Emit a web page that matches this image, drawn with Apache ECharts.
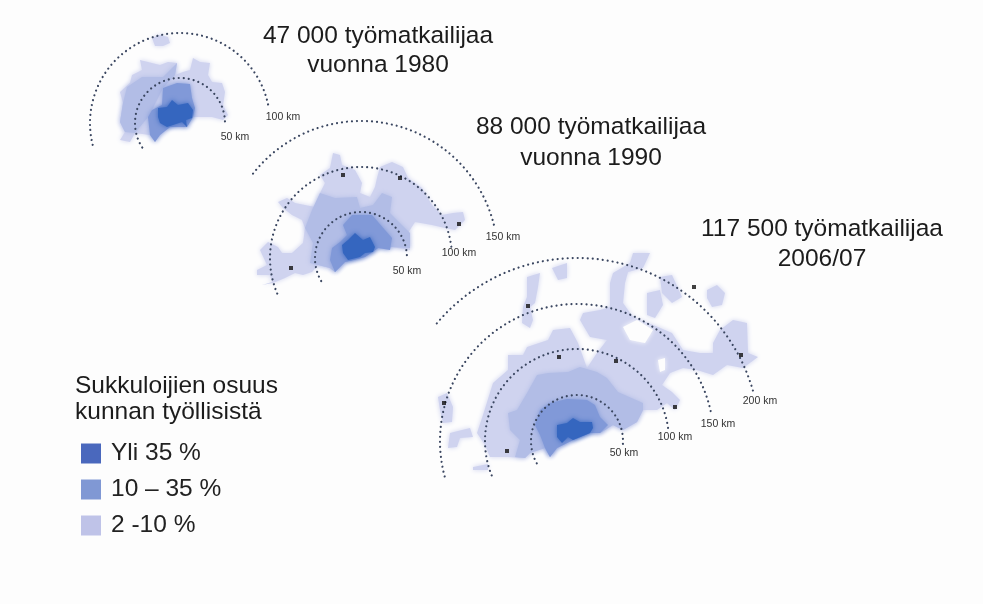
<!DOCTYPE html>
<html>
<head>
<meta charset="utf-8">
<title>Sukkulointi</title>
<script src="https://cdn.jsdelivr.net/npm/echarts@6/dist/echarts.min.js"></script>
<style>
html,body{margin:0;padding:0;background:#fdfdfd;}
#main{width:983px;height:604px;filter:blur(0.5px);}
</style>
</head>
<body>
<div id="main"></div>
<script>
// alueet luettu kuvasta, [x, y] kuvan koordinaateissa
var light = [
  [[120,140],[125,132],[120,122],[123,103],[120,92],[130,83],[132,75],[142,70],[140,60],[148,62],[160,65],[168,62],[177,63],[175,75],[183,72],[190,70],[193,58],[200,62],[210,63],[208,75],[212,82],[222,83],[225,92],[223,105],[228,115],[223,120],[212,117],[193,117],[187,127],[170,127],[160,135],[155,142],[150,135],[135,133],[130,142]],
  [[152,38],[160,35],[168,37],[170,43],[163,46],[155,46]],
  [[262,285],[272,282],[270,275],[257,275],[257,270],[267,265],[260,250],[268,242],[278,247],[282,253],[292,253],[303,243],[305,228],[302,220],[292,215],[283,208],[278,202],[287,198],[295,203],[315,207],[320,193],[325,183],[320,175],[330,168],[333,153],[340,155],[342,165],[355,170],[362,183],[360,193],[370,197],[375,187],[377,178],[380,167],[392,162],[403,167],[408,178],[422,188],[432,205],[442,215],[453,213],[463,212],[465,220],[455,230],[445,228],[432,225],[415,222],[408,233],[410,250],[392,247],[378,248],[365,257],[345,262],[335,272],[330,268],[318,265],[312,272],[303,275],[295,273],[285,278],[273,283]],
  [[477,433],[483,415],[493,383],[508,370],[508,355],[523,355],[527,347],[548,340],[553,330],[570,328],[578,343],[587,368],[597,353],[607,340],[590,337],[580,320],[583,313],[600,310],[610,307],[610,283],[613,273],[630,263],[633,253],[650,253],[643,268],[628,272],[625,283],[623,303],[633,317],[658,327],[672,333],[683,350],[700,353],[713,353],[713,343],[720,330],[733,320],[747,323],[748,353],[758,357],[743,368],[727,365],[713,375],[697,370],[683,368],[670,373],[662,385],[672,392],[680,400],[675,410],[667,403],[657,410],[643,410],[637,422],[623,430],[613,425],[600,433],[590,433],[573,440],[557,448],[550,457],[545,448],[530,453],[525,458],[507,457],[490,457],[485,445]],
  [[450,433],[470,428],[473,437],[460,438],[457,447],[448,448]],
  [[473,467],[488,464],[488,470],[473,470]],
  [[438,397],[447,393],[453,407],[452,422],[443,423],[440,410]],
  [[527,277],[540,273],[538,287],[535,303],[530,307],[533,320],[530,328],[522,323],[523,307],[527,297]],
  [[552,268],[567,263],[567,278],[558,280]],
  [[707,290],[717,285],[725,293],[722,305],[712,307],[707,298]],
  [[647,293],[660,290],[663,305],[655,318],[647,315]],
  [[660,277],[672,275],[682,297],[672,303],[662,293]]
];
var holes = [
  [[623,327],[637,320],[653,330],[645,343],[630,340]],
  [[658,360],[665,358],[665,370],[660,372]]
];
var band = [
  [[127,87],[142,77],[163,77],[177,63],[175,75],[163,88],[152,110],[148,117],[135,133],[125,132],[120,122],[123,103]],
  [[312,210],[320,193],[335,198],[357,197],[360,208],[373,205],[382,193],[392,197],[390,213],[402,225],[410,233],[410,248],[392,247],[378,248],[365,257],[345,262],[335,272],[330,268],[318,265],[310,263],[313,243],[305,228]],
  [[508,413],[517,410],[527,393],[537,375],[548,373],[568,372],[580,367],[597,372],[607,378],[618,392],[643,403],[643,410],[637,422],[623,430],[613,425],[600,433],[590,433],[573,440],[557,448],[550,457],[545,448],[530,453],[525,458],[515,457],[520,440],[510,430]]
];
var mid = [
  [[148,117],[152,110],[162,105],[163,88],[177,83],[190,84],[192,98],[195,108],[193,117],[187,127],[170,127],[160,135],[155,142],[150,135]],
  [[343,225],[352,215],[372,215],[385,230],[392,238],[390,250],[378,248],[365,257],[345,262],[335,272],[330,260],[332,248],[340,242],[347,235]],
  [[540,410],[550,403],[567,399],[587,400],[595,405],[600,417],[608,425],[600,433],[590,433],[573,440],[557,448],[550,457],[545,448],[540,435],[535,425]]
];
var dark = [
  [[158,108],[167,107],[172,100],[178,105],[188,103],[193,110],[192,118],[186,120],[187,127],[182,122],[173,125],[167,127],[160,123],[158,117]],
  [[342,245],[348,240],[355,233],[363,240],[370,237],[375,247],[373,252],[365,253],[360,257],[348,260],[343,253]],
  [[557,425],[567,423],[573,418],[580,422],[592,422],[593,428],[590,433],[573,440],[568,437],[562,443],[557,437]]
];
// keskipiste x, y, säde, alku- ja loppukulma
var rings = [
  [180,123,45,147,362],
  [180,123,90,166,350],
  [361,258,46,150,360],
  [361,258,91,157,353],
  [361,258,137,218,346],
  [577,441,46,151,365],
  [577,441,92,158,352],
  [577,441,137,165,348],
  [577,441,183,220,344]
];
var towns = [[343,175],[400,178],[459,224],[291,268],[528,306],[559,357],[444,403],[507,451],[694,287],[741,355],[616,361],[675,407]];
var kmLabels = [
  [283,117,'100 km'],[235,137,'50 km'],
  [503,237,'150 km'],[459,253,'100 km'],[407,271,'50 km'],
  [760,401,'200 km'],[718,424,'150 km'],[675,437,'100 km'],[624,453,'50 km']
];
var titles = [
  [378,36,'47 000 työmatkailijaa'],[378,65,'vuonna 1980'],
  [591,127,'88 000 työmatkailijaa'],[591,158,'vuonna 1990'],
  [822,229,'117 500 työmatkailijaa'],[822,259,'2006/07']
];
var legendTitle = [[75,386,'Sukkuloijien osuus'],[75,412,'kunnan työllisistä']];
var classNames = ['Yli 35 %','10 – 35 %','2 -10 %'];
var legendColors = ['#4a68bd','#8098d4','#bfc3e8'];
var colors = {dark:'#3566bf',mid:'#8199d8',band:'#b2bde6',light:'#cfd3ef'};

var chart = echarts.init(document.getElementById('main'));

function areaSeries(name, polys, color) {
  return {
    name: name,
    type: 'custom',
    coordinateSystem: 'cartesian2d',
    silent: true,
    data: polys.map(function (p, i) { return [i]; }),
    itemStyle: {color: color},
    renderItem: function (params, api) {
      var pts = polys[params.dataIndex].map(function (p) { return api.coord(p); });
      return {
        type: 'polygon',
        shape: {points: pts},
        style: {fill: color, shadowBlur: 5, shadowColor: color}
      };
    }
  };
}

function textSeries(list, font, align, color) {
  return {
    type: 'custom',
    coordinateSystem: 'cartesian2d',
    silent: true,
    z: 5,
    data: list.map(function (t) { return [t[0], t[1]]; }),
    renderItem: function (params, api) {
      var t = list[params.dataIndex];
      var c = api.coord([t[0], t[1]]);
      return {
        type: 'text',
        style: {x: c[0], y: c[1], text: t[2], font: font, fill: color, align: align, verticalAlign: 'middle'}
      };
    }
  };
}

var option = {
  backgroundColor: '#fdfdfd',
  animation: false,
  grid: {left: 0, right: 0, top: 0, bottom: 0},
  xAxis: {type: 'value', min: 0, max: 983, show: false},
  yAxis: {type: 'value', min: 0, max: 604, inverse: true, show: false},
  legend: {
    orient: 'vertical',
    left: 76,
    top: 436,
    selectedMode: false,
    itemWidth: 20,
    itemHeight: 20,
    itemGap: 11,
    icon: 'rect',
    textStyle: {fontFamily: 'Liberation Sans', fontSize: 24.5, color: '#222', padding: [0, 0, 0, 5]},
    data: classNames.map(function (n, i) {
      return {name: n, itemStyle: {color: legendColors[i], shadowBlur: 0}};
    })
  },
  series: [
    areaSeries(classNames[2], light, colors.light),
    areaSeries('aukot', holes, '#fdfdfd'),
    areaSeries('vyöhyke', band, colors.band),
    areaSeries(classNames[1], mid, colors.mid),
    areaSeries(classNames[0], dark, colors.dark),
    {
      // katkoviivakehät
      type: 'custom',
      coordinateSystem: 'cartesian2d',
      silent: true,
      z: 3,
      data: rings.map(function (r) { return [r[0], r[1]]; }),
      renderItem: function (params, api) {
        var r = rings[params.dataIndex];
        var c = api.coord([r[0], r[1]]);
        return {
          type: 'arc',
          shape: {cx: c[0], cy: c[1], r: api.size([r[2], 0])[0], startAngle: r[3] * Math.PI / 180, endAngle: r[4] * Math.PI / 180, clockwise: true},
          style: {fill: 'none', stroke: '#3a4660', lineWidth: 2.2, lineCap: 'round', lineDash: [0.01, 5]}
        };
      }
    },
    {
      type: 'scatter',
      silent: true,
      symbol: 'rect',
      symbolSize: 4,
      z: 4,
      itemStyle: {color: '#111'},
      data: towns
    },
    textSeries(kmLabels, '10.5px "Liberation Sans"', 'center', '#333'),
    textSeries(titles, '24.5px "Liberation Sans"', 'center', '#1c1c1c'),
    textSeries(legendTitle, '24.5px "Liberation Sans"', 'left', '#1c1c1c')
  ]
};
chart.setOption(option);
</script>
</body>
</html>
